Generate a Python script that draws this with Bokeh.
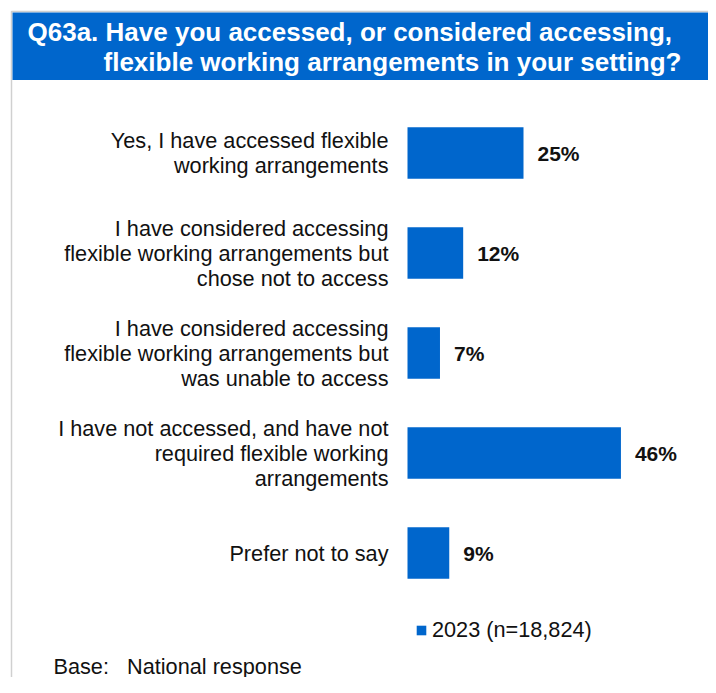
from bokeh.plotting import figure
from bokeh.models import Range1d, Label, Legend, LegendItem, ColumnDataSource
from bokeh.embed import file_html
from bokeh.resources import INLINE
from bokeh.core.properties import value

# ---- data ----
categories = [
    "Yes, I have accessed flexible\nworking arrangements",
    "I have considered accessing\nflexible working arrangements but\nchose not to access",
    "I have considered accessing\nflexible working arrangements but\nwas unable to access",
    "I have not accessed, and have not\nrequired flexible working\narrangements",
    "Prefer not to say",
]
values_2023 = [25, 12, 7, 46, 9]
series_name = "2023 (n=18,824)"
title_line1 = "Q63a. Have you accessed, or considered accessing,"
title_line2 = "flexible working arrangements in your setting?"
base_note = "Base:\u00a0\u00a0 National response"

# ---- layout ----
BLUE = "#0066CC"
FONT = "Liberation Sans"
W, H = 708, 677
BAR_X0 = 407.0       # px where 0% sits
PX_PER_PCT = 4.64
ROW0 = 152.5         # px (from top) of first bar centre
ROW_STEP = 100.0

x_start = -BAR_X0 / PX_PER_PCT
x_end = (W - BAR_X0) / PX_PER_PCT
y_top = -ROW0 / ROW_STEP
y_bottom = (H - ROW0) / ROW_STEP


def px_x(px):
    return x_start + px / PX_PER_PCT


def px_y(py):
    return y_top + py / ROW_STEP


p = figure(width=W, height=H, x_range=Range1d(x_start, x_end),
           y_range=Range1d(y_bottom, y_top), output_backend="svg",
           toolbar_location=None, min_border=0,
           x_axis_location=None, y_axis_location=None)
p.grid.visible = False
p.outline_line_color = None
p.background_fill_color = "white"
p.border_fill_color = "white"

# border of the card
p.quad(left=[px_x(11)], right=[px_x(730)], top=[px_y(11)], bottom=[px_y(700)],
       fill_color=None, line_color="#d0d0d0", line_width=1.5)
# title banner
p.quad(left=[px_x(12)], right=[px_x(730)], top=[px_y(12)], bottom=[px_y(79.5)],
       fill_color=BLUE, line_color=None)

p.add_layout(Label(x=px_x(27), y=px_y(31), text=title_line1, text_color="white",
                   text_font=FONT, text_font_size="26px", text_font_style="bold",
                   text_baseline="middle"))
p.add_layout(Label(x=px_x(103), y=px_y(61.5), text=title_line2, text_color="white",
                   text_font=FONT, text_font_size="26px", text_font_style="bold",
                   text_baseline="middle"))

src = ColumnDataSource(dict(
    idx=list(range(len(categories))),
    cat=categories,
    val=values_2023,
    lab=[f"{v}%" for v in values_2023],
))

bars = p.hbar(y="idx", left=0, right="val", height=0.516, source=src,
              fill_color=BLUE, line_color=None)

p.text(x=0, y="idx", text="cat", source=src, x_offset=-19,
       text_align="right", text_baseline="middle", text_font=value(FONT),
       text_font_size="21.7px", text_line_height=1.0, text_color="#111111")

p.text(x="val", y="idx", text="lab", source=src, x_offset=14,
       text_align="left", text_baseline="middle", text_font=value(FONT),
       text_font_size="21px", text_font_style="bold", text_color="#111111")

legend = Legend(items=[LegendItem(label=series_name, renderers=[bars])],
                location=(415, 34), orientation="horizontal",
                glyph_width=12, glyph_height=12, label_standoff=5,
                padding=0, margin=0, border_line_color=None,
                background_fill_alpha=0, label_text_font=FONT,
                label_text_font_size="21.7px", label_text_color="#111111")
p.add_layout(legend)

p.add_layout(Label(x=px_x(53), y=px_y(665.5), text=base_note, text_color="#111111",
                   text_font=FONT, text_font_size="21.7px", text_baseline="middle"))

open("out.html", "w").write(file_html(p, INLINE))
